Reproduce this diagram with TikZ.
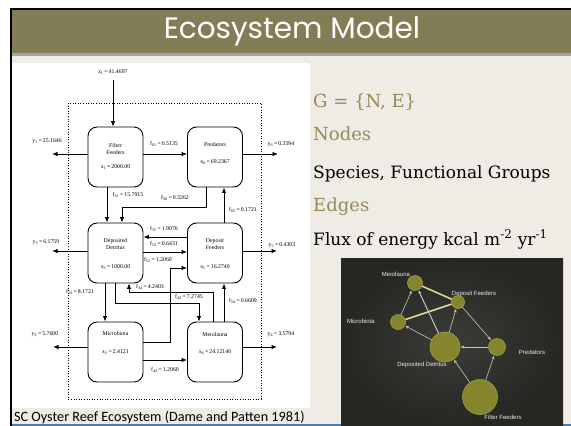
\documentclass[tikz,border=0pt]{standalone}
\usepackage{fontspec}
\setmainfont{DejaVu Serif}
\newfontfamily\titlefont{Poppins}
\newfontfamily\capfont{Carlito}
\newfontfamily\figfont{Liberation Serif}
\newfontfamily\netfont{Liberation Sans}
\usetikzlibrary{arrows.meta}

\definecolor{olivebar}{HTML}{827D57}
\definecolor{olivetxt}{HTML}{958A5C}
\definecolor{creambg}{HTML}{EFECE5}
\definecolor{barshadow}{HTML}{A8A69A}
\definecolor{slideblue}{HTML}{4A7EBB}
\definecolor{netbg}{HTML}{2A2A27}
\definecolor{netnode}{HTML}{85852D}
\definecolor{netrim}{HTML}{A0A048}
\definecolor{netstrong}{HTML}{D9D98F}
\definecolor{netweak}{HTML}{C9C9B8}

% flux label: symbol, subscript, value
\newcommand{\fv}[3]{#1\textsubscript{#2}\,=\,#3}

\tikzset{
  arr/.style={draw, line width=0.85pt, -{Latex[length=5.5pt,width=4.4pt]}},
  box/.style={draw, line width=0.9pt, rounded corners=9pt, fill=white,
              minimum width=55pt, minimum height=60pt, inner sep=0pt},
  btxt/.style={font=\figfont\fontsize{5.8}{7}\selectfont, align=center, inner sep=0pt},
  flab/.style={font=\figfont\fontsize{5.8}{7}\selectfont, inner sep=0.5pt},
  hd/.style={anchor=base west, inner sep=0pt, text=olivetxt, font=\fontsize{18}{20}\selectfont},
  body/.style={anchor=base west, inner sep=0pt, text=black, font=\fontsize{17}{19}\selectfont},
  nnode/.style={circle, fill=netnode, draw=netrim, line width=0.6pt, inner sep=0pt},
  nlab/.style={font=\netfont\fontsize{6}{7}\selectfont, text=white!85!gray, inner sep=0pt},
  nweak/.style={draw=netweak, line width=0.6pt, -{Stealth[length=3.5pt,width=3pt]}, shorten >=0.5pt},
  nstrong/.style={draw=netstrong, line width=1.6pt},
}

\begin{document}
\begin{tikzpicture}[x=1pt,y=-1pt]
\useasboundingbox (0,0) rectangle (571,426);

% slide background, frame and title bar
\fill[white] (0,0) rectangle (571,426);
\fill[creambg] (12,53) rectangle (571,426);
\fill[olivebar] (12,10) rectangle (571,53);
\fill[barshadow] (12,53) rectangle (571,56);
\draw[black, line width=2.4pt] (11,9) -- (571,9);
\draw[black, line width=2.4pt] (11,8) -- (11,426);
\draw[slideblue, line width=1.5pt] (12,425) -- (571,425);
\node[text=white, font=\titlefont\fontsize{29.5}{32}\selectfont, inner sep=0pt] (title) at (292,31) {Ecosystem Model};

% compartment figure
\fill[white] (12,63) rectangle (310,408);
\draw[line width=0.9pt, dash pattern=on 1pt off 1.6pt] (68,103) rectangle (261,399);

\node[box] (ff) at (115.5,157) {};
\node[box] (pr) at (215,157) {};
\node[box] (dd) at (115.5,253) {};
\node[box] (df) at (215,253) {};
\node[box] (mb) at (115.5,352) {};
\node[box] (mf) at (215,352) {};

\node[btxt] (ffname) at (115.5,149.5) {Filter\\Feeders};
\node[btxt] (ffval) at (115.5,167) {\fv{x}{1}{2000.00}};
\node[btxt] (prname) at (215,145) {Predators};
\node[btxt] (prval) at (215,162) {\fv{x}{6}{69.2367}};
\node[btxt] (ddname) at (115.5,244) {Deposited\\Detritus};
\node[btxt] (ddval) at (115.5,267) {\fv{x}{3}{1000.00}};
\node[btxt] (dfname) at (215,244.5) {Deposit\\Feeders};
\node[btxt] (dfval) at (215,267) {\fv{x}{5}{16.2740}};
\node[btxt] (mbname) at (115.5,334) {Microbiota};
\node[btxt] (mbval) at (115.5,352) {\fv{x}{2}{2.4121}};
\node[btxt] (mfname) at (215,334) {Meiofauna};
\node[btxt] (mfval) at (215,352) {\fv{x}{4}{24.12140}};

% free ends, levels and bends of the flux arrows
\coordinate (z1s) at (113,80);
\coordinate (y1e) at (52,154);
\coordinate (f61y) at (165,154);
\coordinate (y6e) at (278,154);
\coordinate (f31x) at (107,200);
\coordinate (f36a) at (206,207);
\coordinate (f36b) at (122,207);
\coordinate (f65x) at (224,200);
\coordinate (y3e) at (52,251);
\coordinate (y5e) at (277,251);
\coordinate (f35y) at (165,237);
\coordinate (f53y) at (165,252);
\coordinate (f52a) at (170,342);
\coordinate (f52b) at (170,268);
\coordinate (f23x) at (105,300);
\coordinate (f43a) at (115,303);
\coordinate (f43b) at (199,303);
\coordinate (f34a) at (213,292);
\coordinate (f34b) at (129,292);
\coordinate (f54x) at (224,300);
\coordinate (f42y) at (165,360);
\coordinate (y2e) at (53,347);
\coordinate (y4e) at (277,347);

\draw[arr] (z1s) -- (z1s |- ff.north);
\draw[arr] (ff.west |- y1e) -- (y1e);
\draw[arr] (ff.east |- f61y) -- (pr.west |- f61y);
\draw[arr] (pr.east |- y6e) -- (y6e);
\draw[arr] (ff.south -| f31x) -- (dd.north -| f31x);
\draw[arr] (pr.south -| f36a) -- (f36a) -- (f36b) -- (dd.north -| f36b);
\draw[arr] (df.north -| f65x) -- (pr.south -| f65x);
\draw[arr] (dd.west |- y3e) -- (y3e);
\draw[arr] (df.east |- y5e) -- (y5e);
\draw[arr] (df.west |- f35y) -- (dd.east |- f35y);
\draw[arr] (dd.east |- f53y) -- (df.west |- f53y);
\draw[arr] (mb.east |- f52a) -- (f52a) -- (f52b) -- (df.west |- f52b);
\draw[arr] (dd.south -| f23x) -- (mb.north -| f23x);
\draw[arr] (dd.south -| f43a) -- (f43a) -- (f43b) -- (mf.north -| f43b);
\draw[arr] (mf.north -| f34a) -- (f34a) -- (f34b) -- (dd.south -| f34b);
\draw[arr] (mf.north -| f54x) -- (df.south -| f54x);
\draw[arr] (mb.east |- f42y) -- (mf.west |- f42y);
\draw[arr] (mb.west |- y2e) -- (y2e);
\draw[arr] (mf.east |- y4e) -- (y4e);

\node[flab] (z1l) at (113,72) {\fv{z}{1}{41.4697}};
\node[flab] (y1l) at (47,141) {\fv{y}{1}{25.1646}};
\node[flab] (f61l) at (164,144) {\fv{f}{61}{0.5135}};
\node[flab] (y6l) at (281,144) {\fv{y}{6}{0.3594}};
\node[flab] (f31l) at (128,195) {\fv{f}{31}{15.7915}};
\node[flab] (f36l) at (175,198) {\fv{f}{36}{0.3262}};
\node[flab] (f65l) at (243,210) {\fv{f}{65}{0.1721}};
\node[flab] (y3l) at (46,242) {\fv{y}{3}{6.1759}};
\node[flab] (y5l) at (282,245) {\fv{y}{5}{0.4303}};
\node[flab] (f35l) at (164,229) {\fv{f}{35}{1.9076}};
\node[flab] (f53l) at (164,244) {\fv{f}{53}{0.6431}};
\node[flab] (f52l) at (158,260) {\fv{f}{52}{1.2060}};
\node[flab] (f23l) at (80,292) {\fv{f}{23}{8.1721}};
\node[flab] (f43l) at (189,297) {\fv{f}{43}{7.2745}};
\node[flab] (f34l) at (150,287) {\fv{f}{34}{4.2403}};
\node[flab] (f54l) at (243,301) {\fv{f}{54}{0.6609}};
\node[flab] (f42l) at (165,370) {\fv{f}{42}{1.2060}};
\node[flab] (y2l) at (45,334) {\fv{y}{2}{5.7600}};
\node[flab] (y4l) at (281,334) {\fv{y}{4}{3.5794}};

% caption strip
\fill[creambg] (12,408) rectangle (310,424);
\node[anchor=base west, inner sep=0pt, font=\capfont\fontsize{14.2}{16}\selectfont] (cap) at (14,421) {SC Oyster Reef Ecosystem (Dame and Patten 1981)};

% graph definition text
\node[hd] (gdef) at (313,107) {G = \{N, E\}};
\node[hd] (nodeshd) at (313,140) {Nodes};
\node[body] (nodestx) at (313,178) {Species, Functional Groups};
\node[hd] (edgeshd) at (313,211) {Edges};
\node[body] (edgestx) at (313,245) {Flux of energy kcal m\textsuperscript{-2} yr\textsuperscript{-1}};

% network rendering of the food web
\shade[inner color=netbg!92!white, outer color=netbg!90!black] (341,258) rectangle (563,426);
\node[nnode, minimum size=15pt] (mfn) at (415,283) {};
\node[nnode, minimum size=13pt] (dfn) at (458,302) {};
\node[nnode, minimum size=15pt] (mbn) at (398,322) {};
\node[nnode, minimum size=30pt] (ddn) at (445,347) {};
\node[nnode, minimum size=17pt] (prn) at (497,347) {};
\node[nnode, minimum size=35pt] (ffn) at (480,397) {};

\draw[nstrong] (mfn) -- (dfn);
\draw[nstrong] (mbn) -- (dfn);
\draw[nweak] (mbn) -- (mfn);
\draw[nweak, line width=1pt] (ddn) -- (mfn);
\draw[nweak] (ddn) -- (dfn);
\draw[nweak] (ddn) -- (mbn);
\draw[nweak] (dfn) -- (prn);
\draw[nweak] (prn) -- (ddn);
\draw[nweak] (ffn) -- (ddn);
\draw[nweak] (ffn) -- (prn);

\node[nlab] (mfl) at (396,274) {Meiofauna};
\node[nlab] (dfl) at (474,294) {Deposit Feeders};
\node[nlab] (mbl) at (361,321) {Microbiota};
\node[nlab] (ddl) at (422,365) {Deposited Detritus};
\node[nlab] (prl) at (532,352) {Predators};
\node[nlab] (ffl) at (503,417) {Filter Feeders};
\end{tikzpicture}
\end{document}
